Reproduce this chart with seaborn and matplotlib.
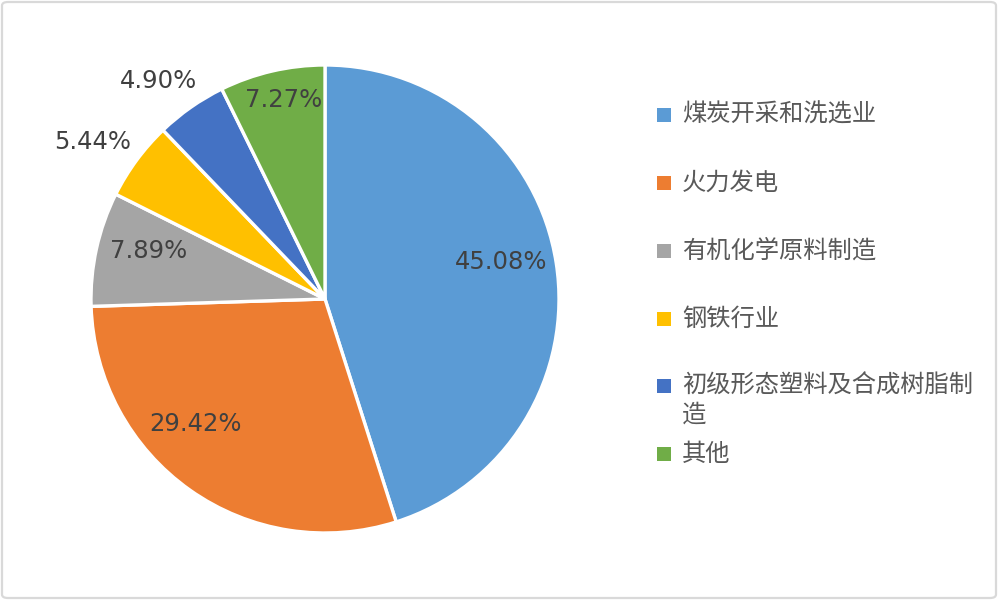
import matplotlib
matplotlib.use("Agg")
import matplotlib.pyplot as plt
import seaborn as sns
import numpy as np
from matplotlib.patches import FancyBboxPatch

categories = ["煤炭开采和洗选业", "火力发电", "有机化学原料制造", "钢铁行业",
              "初级形态塑料及合成树脂制造", "其他"]
legend_labels = ["煤炭开采和洗选业", "火力发电", "有机化学原料制造", "钢铁行业",
                 "初级形态塑料及合成树脂制\n造", "其他"]
shares = [45.08, 29.42, 7.89, 5.44, 4.90, 7.27]
pct_labels = ["45.08%", "29.42%", "7.89%", "5.44%", "4.90%", "7.27%"]
colors = ["#5B9BD5", "#ED7D31", "#A5A5A5", "#FFC000", "#4472C4", "#70AD47"]

sns.set_theme(style="white")
plt.rcParams['font.family'] = ['Noto Sans CJK SC', 'DejaVu Sans']

W, H = 998, 600
fig = plt.figure(figsize=(W / 100, H / 100), dpi=100)
fig.patch.set_facecolor("white")

# border
border = FancyBboxPatch((2 / W, 2 / H), 1 - 4 / W, 1 - 4 / H,
                        boxstyle="round,pad=0,rounding_size=0.006",
                        transform=fig.transFigure, facecolor="none",
                        edgecolor="#D9D9D9", linewidth=1.6)
fig.patches.append(border)

cx, cy, R = 325, 299, 234
ax = fig.add_axes([(cx - R) / W, (H - cy - R) / H, 2 * R / W, 2 * R / H])
wedges, _ = ax.pie(shares, colors=colors, startangle=90, counterclock=False,
                   radius=1.0, wedgeprops=dict(edgecolor="white", linewidth=2.4))
ax.set_xlim(-1, 1)
ax.set_ylim(-1, 1)
ax.set_aspect("equal")
ax.axis("off")

# label placement: (radius fraction, angular offset in degrees from slice mid)
label_place = [(0.77, 3.0), (0.77, -10.7), (0.78, -2.8), (1.20, 2.3), (1.17, 2.4), (0.87, -1.5)]
for w, txt, (r, dth) in zip(wedges, pct_labels, label_place):
    ang = np.deg2rad((w.theta1 + w.theta2) / 2 + dth)
    ax.text(r * np.cos(ang), r * np.sin(ang), txt, ha="center", va="center",
            fontsize=17.5, color="#404040", family=["DejaVu Sans"])

# legend
lax = fig.add_axes([0, 0, 1, 1])
lax.set_xlim(0, W)
lax.set_ylim(H, 0)
lax.axis("off")
ys = [115, 183, 251, 319, 386, 454]
for y, lab, c in zip(ys, legend_labels, colors):
    lax.scatter([664], [y], marker="s", s=90, color=c, linewidths=0)
    lines = lab.split("\n")
    for k, line in enumerate(lines):
        lax.text(682, y + 29 * k, line, ha="left", va="center",
                 fontsize=17.5, color="#595959")

fig.savefig("out.png", dpi=100, facecolor="white")
